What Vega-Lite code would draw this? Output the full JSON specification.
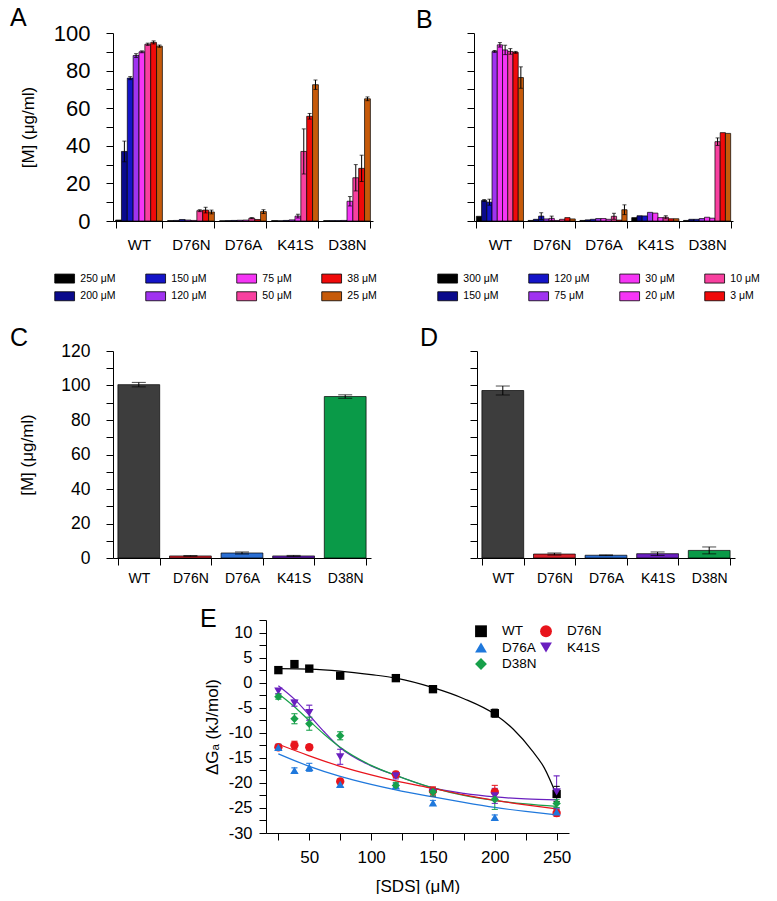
{
"$schema":"https://vega.github.io/schema/vega-lite/v6.json",
"padding":{"left":10,"top":6,"right":0,"bottom":0},
"background":"white",
"config":{"font":"Liberation Sans","view":{"stroke":null},
 "axis":{"domainColor":"#000","tickColor":"#000","labelColor":"#000","titleColor":"#000","grid":false,"tickSize":7,"titleFontWeight":"normal","domainWidth":1,"tickWidth":1,"labelOverlap":false},
 "title":{"fontWeight":"normal","color":"#000","fontSize":25,"anchor":"start","frame":"group","baseline":"alphabetic"},
 "legend":{"padding":0,"labelColor":"#000"}},
"spacing":22,
"align":"none",
"resolve":{"scale":{"color":"independent","x":"independent","y":"independent","shape":"independent","stroke":"independent","xOffset":"independent"},"legend":{"color":"independent","shape":"independent","stroke":"independent"}},
"vconcat":[
 {"hconcat":[
  {"width":260,"height":188,
   "title":{"text":"A","offset":-9,"dx":-103},
   "data":{"name":"a"},
   "layer":[
    {"mark":{"type":"bar","stroke":"#000","strokeWidth":0.7},
     "encoding":{
      "x":{"field":"g","type":"nominal","scale":{"domain":["WT","D76N","D76A","K41S","D38N"],"paddingInner":0.1,"paddingOuter":0.05},"axis":{"title":null,"labelAngle":0,"labelFontSize":15,"labelPadding":9,"tickBand":"extent"}},
      "xOffset":{"field":"ca","type":"nominal","scale":{"domain":["250 μM","200 μM","150 μM","120 μM","75 μM","50 μM","38 μM","25 μM"],"paddingInner":0,"paddingOuter":0}},
      "y":{"field":"v","type":"quantitative","scale":{"domain":[0,100],"nice":false},"axis":{"title":"[M] (μg/ml)","titleFontSize":17,"titlePadding":16,"labelFontSize":22,"labelPadding":16,"values":[0,10,20,30,40,50,60,70,80,90,100],"tickCount":200,"labelExpr":"datum.value % 20 === 0 ? '' + datum.value : ''"}},
      "color":{"field":"ca","type":"nominal","scale":{"domain":["250 μM","150 μM","75 μM","38 μM","200 μM","120 μM","50 μM","25 μM"],"range":["#000000","#1414c8","#f535f5","#f00a0a","#0a0a8c","#a033f0","#f8409f","#c65a0a"]},
       "legend":{"orient":"none","legendX":-53.6,"legendY":240,"direction":"horizontal","columns":4,"title":null,"symbolType":"M-2.2,-1H2.2V1H-2.2Z","symbolSize":81,"symbolStrokeColor":"#000","symbolStrokeWidth":0.8,"symbolOpacity":1,"labelFontSize":10.5,"labelOffset":10.4,"columnPadding":27,"rowPadding":5}}}},
    {"transform":[{"filter":"isValid(datum.lo)"}],"mark":{"type":"rule","color":"#000","strokeWidth":1},
     "encoding":{"x":{"field":"g","type":"nominal"},"xOffset":{"field":"ca","type":"nominal"},"y":{"field":"lo","type":"quantitative","title":"[M] (μg/ml)"},"y2":{"field":"hi"}}},
    {"transform":[{"filter":"isValid(datum.lo)"}],"mark":{"type":"tick","orient":"horizontal","size":4,"thickness":1,"color":"#000"},
     "encoding":{"x":{"field":"g","type":"nominal"},"xOffset":{"field":"ca","type":"nominal"},"y":{"field":"hi","type":"quantitative","title":"[M] (μg/ml)"}}},
    {"transform":[{"filter":"isValid(datum.lo)"}],"mark":{"type":"tick","orient":"horizontal","size":4,"thickness":1,"color":"#000"},
     "encoding":{"x":{"field":"g","type":"nominal"},"xOffset":{"field":"ca","type":"nominal"},"y":{"field":"lo","type":"quantitative","title":"[M] (μg/ml)"}}}
   ]},
  {"width":259,"height":188,
   "title":{"text":"B","offset":0,"dx":-58},
   "data":{"name":"b"},
   "layer":[
    {"mark":{"type":"bar","stroke":"#000","strokeWidth":0.7},
     "encoding":{
      "x":{"field":"g","type":"nominal","scale":{"domain":["WT","D76N","D76A","K41S","D38N"],"paddingInner":0.09,"paddingOuter":0.045},"axis":{"title":null,"labelAngle":0,"labelFontSize":15,"labelPadding":9,"tickBand":"extent"}},
      "xOffset":{"field":"cb","type":"nominal","scale":{"domain":["300 μM","150 μM","120 μM","75 μM","30 μM","20 μM","10 μM","3 μM","1 μM"],"paddingInner":0,"paddingOuter":0}},
      "y":{"field":"v","type":"quantitative","scale":{"domain":[0,100],"nice":false},"axis":{"title":null,"labels":false,"values":[0,10,20,30,40,50,60,70,80,90,100],"tickCount":200}},
      "color":{"field":"cb","type":"nominal","scale":{"domain":["300 μM","120 μM","30 μM","10 μM","150 μM","75 μM","20 μM","3 μM","1 μM"],"range":["#000000","#1414c8","#f535f5","#f8409f","#0a0a8c","#a033f0","#f535f5","#f00a0a","#c65a0a"]},
       "legend":{"orient":"none","legendX":-31.6,"legendY":240,"direction":"horizontal","columns":4,"title":null,"values":["300 μM","120 μM","30 μM","10 μM","150 μM","75 μM","20 μM","3 μM"],"symbolType":"M-2.2,-1H2.2V1H-2.2Z","symbolSize":81,"symbolStrokeColor":"#000","symbolStrokeWidth":0.8,"symbolOpacity":1,"labelFontSize":10.5,"labelOffset":10.4,"columnPadding":27,"rowPadding":5}}}},
    {"transform":[{"filter":"isValid(datum.lo)"}],"mark":{"type":"rule","color":"#000","strokeWidth":1},
     "encoding":{"x":{"field":"g","type":"nominal"},"xOffset":{"field":"cb","type":"nominal"},"y":{"field":"lo","type":"quantitative","title":null},"y2":{"field":"hi"}}},
    {"transform":[{"filter":"isValid(datum.lo)"}],"mark":{"type":"tick","orient":"horizontal","size":4,"thickness":1,"color":"#000"},
     "encoding":{"x":{"field":"g","type":"nominal"},"xOffset":{"field":"cb","type":"nominal"},"y":{"field":"hi","type":"quantitative","title":null}}},
    {"transform":[{"filter":"isValid(datum.lo)"}],"mark":{"type":"tick","orient":"horizontal","size":4,"thickness":1,"color":"#000"},
     "encoding":{"x":{"field":"g","type":"nominal"},"xOffset":{"field":"cb","type":"nominal"},"y":{"field":"lo","type":"quantitative","title":null}}}
   ]}
 ],"spacing":38,"align":"none","resolve":{"scale":{"color":"independent","x":"independent","y":"independent","xOffset":"independent"},"legend":{"color":"independent"}}},
 {"hconcat":[
  {"width":258,"height":207,
   "title":{"text":"C","offset":-9,"dx":-103},
   "data":{"name":"c"},
   "layer":[
    {"mark":{"type":"bar","stroke":"#000","strokeWidth":0.7},
     "encoding":{
      "x":{"field":"g","type":"nominal","scale":{"domain":["WT","D76N","D76A","K41S","D38N"],"paddingInner":0.19,"paddingOuter":0.095},"axis":{"title":null,"labelAngle":0,"labelFontSize":14,"labelPadding":6,"tickBand":"extent"}},
      "y":{"field":"v","type":"quantitative","scale":{"domain":[0,120],"nice":false},"axis":{"title":"[M] (μg/ml)","titleFontSize":17,"titlePadding":24,"labelFontSize":17.5,"labelPadding":16,"values":[0,10,20,30,40,50,60,70,80,90,100,110,120],"tickCount":200,"labelExpr":"datum.value % 20 === 0 ? '' + datum.value : ''"}},
      "color":{"field":"g","type":"nominal","scale":{"domain":["WT","D76N","D76A","K41S","D38N"],"range":["#3d3d3d","#d8202a","#2b6fd4","#6a1fbf","#0a9a48"]},"legend":null}}},
    {"mark":{"type":"rule","color":"#000","strokeWidth":1},
     "encoding":{"x":{"field":"g","type":"nominal"},"y":{"field":"lo","type":"quantitative","title":"[M] (μg/ml)"},"y2":{"field":"hi"}}},
    {"mark":{"type":"tick","orient":"horizontal","size":14,"thickness":1,"color":"#000"},
     "encoding":{"x":{"field":"g","type":"nominal"},"y":{"field":"hi","type":"quantitative","title":"[M] (μg/ml)"}}},
    {"mark":{"type":"tick","orient":"horizontal","size":14,"thickness":1,"color":"#000"},
     "encoding":{"x":{"field":"g","type":"nominal"},"y":{"field":"lo","type":"quantitative","title":"[M] (μg/ml)"}}}
   ]},
  {"width":258,"height":207,
   "title":{"text":"D","offset":0,"dx":-57},
   "data":{"name":"d"},
   "layer":[
    {"mark":{"type":"bar","stroke":"#000","strokeWidth":0.7},
     "encoding":{
      "x":{"field":"g","type":"nominal","scale":{"domain":["WT","D76N","D76A","K41S","D38N"],"paddingInner":0.19,"paddingOuter":0.095},"axis":{"title":null,"labelAngle":0,"labelFontSize":14,"labelPadding":6,"tickBand":"extent"}},
      "y":{"field":"v","type":"quantitative","scale":{"domain":[0,120],"nice":false},"axis":{"title":null,"labels":false,"values":[0,10,20,30,40,50,60,70,80,90,100,110,120],"tickCount":200}},
      "color":{"field":"g","type":"nominal","scale":{"domain":["WT","D76N","D76A","K41S","D38N"],"range":["#3d3d3d","#d8202a","#2b6fd4","#6a1fbf","#0a9a48"]},"legend":null}}},
    {"mark":{"type":"rule","color":"#000","strokeWidth":1},
     "encoding":{"x":{"field":"g","type":"nominal"},"y":{"field":"lo","type":"quantitative","title":null},"y2":{"field":"hi"}}},
    {"mark":{"type":"tick","orient":"horizontal","size":14,"thickness":1,"color":"#000"},
     "encoding":{"x":{"field":"g","type":"nominal"},"y":{"field":"hi","type":"quantitative","title":null}}},
    {"mark":{"type":"tick","orient":"horizontal","size":14,"thickness":1,"color":"#000"},
     "encoding":{"x":{"field":"g","type":"nominal"},"y":{"field":"lo","type":"quantitative","title":null}}}
   ]}
 ],"spacing":49,"align":"none","resolve":{"scale":{"color":"independent","x":"independent","y":"independent"}}},
 {"hconcat":[
  {"width":87,"height":10,"data":{"values":[]},"mark":{"type":"point"}},
  {"width":303,"height":213,
   "title":{"text":"E","offset":-20,"dx":-66},
   "layer":[
    {"data":{"name":"curves"},"mark":{"type":"line","interpolate":"monotone","strokeWidth":1.2},
     "encoding":{
      "x":{"field":"x","type":"quantitative","scale":{"domain":[15,260],"nice":false,"zero":false},"axis":{"title":"[SDS] (μM)","titleFontSize":17,"titlePadding":13,"labelFontSize":17,"labelPadding":9,"values":[25,50,75,100,125,150,175,200,225,250],"tickCount":200,"labelExpr":"datum.value % 50 === 0 ? '' + datum.value : ''"}},
      "y":{"field":"y","type":"quantitative","scale":{"domain":[-30,12.5],"nice":false,"zero":false},"axis":{"title":"ΔGₐ (kJ/mol)","titleFontSize":17,"titlePadding":7,"labelFontSize":16.5,"labelPadding":7,"values":[-30,-27.5,-25,-22.5,-20,-17.5,-15,-12.5,-10,-7.5,-5,-2.5,0,2.5,5,7.5,10,12.5],"tickCount":200,"labelExpr":"datum.value % 5 === 0 ? '' + datum.value : ''"}},
      "stroke":{"field":"s","type":"nominal","scale":{"domain":["D38N","K41S","D76A","D76N","WT"],"range":["#17a04a","#6a1fbf","#1f78dc","#e8141c","#000000"]},"legend":null}}},
    {"data":{"name":"pts"},"mark":{"type":"rule","strokeWidth":1},
     "encoding":{"x":{"field":"x","type":"quantitative","title":"[SDS] (μM)"},"y":{"field":"lo","type":"quantitative","title":"ΔGₐ (kJ/mol)"},"y2":{"field":"hi"},
      "stroke":{"field":"s","type":"nominal","legend":null}}},
    {"data":{"name":"pts"},"mark":{"type":"tick","orient":"horizontal","size":6,"thickness":0.01,"filled":false,"strokeWidth":1},
     "encoding":{"x":{"field":"x","type":"quantitative","title":"[SDS] (μM)"},"y":{"field":"hi","type":"quantitative","title":"ΔGₐ (kJ/mol)"},
      "stroke":{"field":"s","type":"nominal","legend":null}}},
    {"data":{"name":"pts"},"mark":{"type":"tick","orient":"horizontal","size":6,"thickness":0.01,"filled":false,"strokeWidth":1},
     "encoding":{"x":{"field":"x","type":"quantitative","title":"[SDS] (μM)"},"y":{"field":"lo","type":"quantitative","title":"ΔGₐ (kJ/mol)"},
      "stroke":{"field":"s","type":"nominal","legend":null}}},
    {"data":{"name":"pts"},"mark":{"type":"point","filled":true,"size":70,"opacity":1},
     "encoding":{"x":{"field":"x","type":"quantitative","title":"[SDS] (μM)"},"y":{"field":"y","type":"quantitative","title":"ΔGₐ (kJ/mol)"},
      "color":{"field":"s","type":"nominal","scale":{"domain":["WT","D76N","D76A","K41S","D38N"],"range":["#000000","#e8141c","#1f78dc","#6a1fbf","#17a04a"]},
       "legend":{"orient":"none","legendX":208,"legendY":4,"direction":"horizontal","columns":2,"title":null,"symbolSize":140,"labelFontSize":13.5,"labelOffset":14,"columnPadding":2,"rowPadding":2.5}},
      "shape":{"field":"s","type":"nominal","scale":{"domain":["WT","D76N","D76A","K41S","D38N"],"range":["square","circle","triangle-up","triangle-down","diamond"]},
       "legend":{"orient":"none","legendX":208,"legendY":4,"direction":"horizontal","columns":2,"title":null,"symbolSize":140,"labelFontSize":13.5,"labelOffset":14,"columnPadding":2,"rowPadding":2.5}}}}
   ]}
 ],"spacing":0,"align":"none","resolve":{"scale":{"color":"independent","shape":"independent","stroke":"independent","x":"independent","y":"independent"},"legend":{"color":"independent","shape":"independent","stroke":"independent"}}}
],
"datasets":{
 "a":[
  {"g":"WT","ca":"250 μM","v":0.5},
  {"g":"WT","ca":"200 μM","v":37,"lo":31.5,"hi":42.5},
  {"g":"WT","ca":"150 μM","v":76,"lo":75.2,"hi":76.8},
  {"g":"WT","ca":"120 μM","v":88,"lo":87,"hi":89},
  {"g":"WT","ca":"75 μM","v":90,"lo":89.5,"hi":90.5},
  {"g":"WT","ca":"50 μM","v":94,"lo":93.4,"hi":94.6},
  {"g":"WT","ca":"38 μM","v":95,"lo":94.2,"hi":95.8},
  {"g":"WT","ca":"25 μM","v":93,"lo":92.4,"hi":93.6},
  {"g":"D76N","ca":"250 μM","v":0.2},
  {"g":"D76N","ca":"200 μM","v":0.3},
  {"g":"D76N","ca":"150 μM","v":0.8},
  {"g":"D76N","ca":"120 μM","v":0.5},
  {"g":"D76N","ca":"75 μM","v":0.3},
  {"g":"D76N","ca":"50 μM","v":5.5,"lo":5,"hi":6},
  {"g":"D76N","ca":"38 μM","v":5.8,"lo":4.3,"hi":7.3},
  {"g":"D76N","ca":"25 μM","v":4.8,"lo":3.8,"hi":5.8},
  {"g":"D76A","ca":"250 μM","v":0.1},
  {"g":"D76A","ca":"200 μM","v":0.2},
  {"g":"D76A","ca":"150 μM","v":0.3},
  {"g":"D76A","ca":"120 μM","v":0.4},
  {"g":"D76A","ca":"75 μM","v":0.5},
  {"g":"D76A","ca":"50 μM","v":1.5,"lo":1.2,"hi":1.8},
  {"g":"D76A","ca":"38 μM","v":0.8},
  {"g":"D76A","ca":"25 μM","v":5,"lo":4,"hi":6},
  {"g":"K41S","ca":"250 μM","v":0.2},
  {"g":"K41S","ca":"200 μM","v":0.1},
  {"g":"K41S","ca":"150 μM","v":0.3},
  {"g":"K41S","ca":"120 μM","v":0.6},
  {"g":"K41S","ca":"75 μM","v":2.6,"lo":1.6,"hi":3.6},
  {"g":"K41S","ca":"50 μM","v":37,"lo":25,"hi":49},
  {"g":"K41S","ca":"38 μM","v":55.7,"lo":54.2,"hi":57.2},
  {"g":"K41S","ca":"25 μM","v":72.5,"lo":70,"hi":75},
  {"g":"D38N","ca":"250 μM","v":0.2},
  {"g":"D38N","ca":"200 μM","v":0.2},
  {"g":"D38N","ca":"150 μM","v":0.2},
  {"g":"D38N","ca":"120 μM","v":0.3},
  {"g":"D38N","ca":"75 μM","v":10.5,"lo":8,"hi":13},
  {"g":"D38N","ca":"50 μM","v":23,"lo":16,"hi":30},
  {"g":"D38N","ca":"38 μM","v":28,"lo":21,"hi":35},
  {"g":"D38N","ca":"25 μM","v":65,"lo":64,"hi":66}
 ],
 "b":[
  {"g":"WT","cb":"300 μM","v":2.5},
  {"g":"WT","cb":"150 μM","v":10.9,"lo":10.4,"hi":11.4},
  {"g":"WT","cb":"120 μM","v":10,"lo":8.4,"hi":11.6},
  {"g":"WT","cb":"75 μM","v":90.2,"lo":89.7,"hi":90.7},
  {"g":"WT","cb":"30 μM","v":93.7,"lo":92.5,"hi":94.9},
  {"g":"WT","cb":"20 μM","v":91,"lo":88.5,"hi":93.5},
  {"g":"WT","cb":"10 μM","v":90.2,"lo":88.7,"hi":91.7},
  {"g":"WT","cb":"3 μM","v":89.7,"lo":89.2,"hi":90.2},
  {"g":"WT","cb":"1 μM","v":76.3,"lo":70.6,"hi":82},
  {"g":"D76N","cb":"300 μM","v":0.3},
  {"g":"D76N","cb":"150 μM","v":0.9},
  {"g":"D76N","cb":"120 μM","v":2.6,"lo":0.8,"hi":4.4},
  {"g":"D76N","cb":"75 μM","v":1.1},
  {"g":"D76N","cb":"30 μM","v":1.4,"lo":0.2,"hi":2.6},
  {"g":"D76N","cb":"20 μM","v":0.3},
  {"g":"D76N","cb":"10 μM","v":0.9},
  {"g":"D76N","cb":"3 μM","v":1.8},
  {"g":"D76N","cb":"1 μM","v":1.1},
  {"g":"D76A","cb":"300 μM","v":0.3},
  {"g":"D76A","cb":"150 μM","v":0.6},
  {"g":"D76A","cb":"120 μM","v":0.9},
  {"g":"D76A","cb":"75 μM","v":1.3},
  {"g":"D76A","cb":"30 μM","v":1.3},
  {"g":"D76A","cb":"20 μM","v":0.9},
  {"g":"D76A","cb":"10 μM","v":2.5,"lo":0.9,"hi":4.1},
  {"g":"D76A","cb":"3 μM","v":0.5},
  {"g":"D76A","cb":"1 μM","v":6,"lo":3.4,"hi":8.6},
  {"g":"K41S","cb":"300 μM","v":1.8},
  {"g":"K41S","cb":"150 μM","v":2.8},
  {"g":"K41S","cb":"120 μM","v":2.7},
  {"g":"K41S","cb":"75 μM","v":4.6},
  {"g":"K41S","cb":"30 μM","v":4.2},
  {"g":"K41S","cb":"20 μM","v":1.8},
  {"g":"K41S","cb":"10 μM","v":2,"lo":1.2,"hi":2.8},
  {"g":"K41S","cb":"3 μM","v":1.2},
  {"g":"K41S","cb":"1 μM","v":1.2},
  {"g":"D38N","cb":"300 μM","v":0.3},
  {"g":"D38N","cb":"150 μM","v":0.9},
  {"g":"D38N","cb":"120 μM","v":0.9},
  {"g":"D38N","cb":"75 μM","v":1.3},
  {"g":"D38N","cb":"30 μM","v":2},
  {"g":"D38N","cb":"20 μM","v":1.5},
  {"g":"D38N","cb":"10 μM","v":42.2,"lo":40.2,"hi":44.2},
  {"g":"D38N","cb":"3 μM","v":47},
  {"g":"D38N","cb":"1 μM","v":46.6}
 ],
 "c":[
  {"g":"WT","v":100.5,"lo":99.2,"hi":101.8},
  {"g":"D76N","v":1.2,"lo":1.0,"hi":1.4},
  {"g":"D76A","v":2.9,"lo":2.3,"hi":3.5},
  {"g":"K41S","v":1.2,"lo":0.9,"hi":1.5},
  {"g":"D38N","v":93.6,"lo":92.6,"hi":94.6}
 ],
 "d":[
  {"g":"WT","v":97.1,"lo":94.5,"hi":99.7},
  {"g":"D76N","v":2.3,"lo":1.7,"hi":2.9},
  {"g":"D76A","v":1.6,"lo":1.4,"hi":1.8},
  {"g":"K41S","v":2.5,"lo":1.5,"hi":3.5},
  {"g":"D38N","v":4.4,"lo":2.4,"hi":6.4}
 ],
 "pts":[
  {"s":"WT","x":25,"y":2.5,"lo":2.0,"hi":3.0},
  {"s":"WT","x":38,"y":3.7,"lo":3.1,"hi":4.3},
  {"s":"WT","x":50,"y":2.8,"lo":2.3,"hi":3.3},
  {"s":"WT","x":75,"y":1.4,"lo":0.8,"hi":2.0},
  {"s":"WT","x":120,"y":0.9,"lo":0.4,"hi":1.4},
  {"s":"WT","x":150,"y":-1.3,"lo":-1.9,"hi":-0.7},
  {"s":"WT","x":200,"y":-6.1,"lo":-6.9,"hi":-5.3},
  {"s":"WT","x":250,"y":-22.2,"lo":-23.7,"hi":-20.7},
  {"s":"D76N","x":25,"y":-12.9,"lo":-13.5,"hi":-12.3},
  {"s":"D76N","x":38,"y":-12.5,"lo":-13.3,"hi":-11.7},
  {"s":"D76N","x":50,"y":-12.9,"lo":-13.4,"hi":-12.4},
  {"s":"D76N","x":75,"y":-19.7,"lo":-20.2,"hi":-19.2},
  {"s":"D76N","x":120,"y":-18.3,"lo":-18.9,"hi":-17.7},
  {"s":"D76N","x":150,"y":-21.6,"lo":-22.4,"hi":-20.8},
  {"s":"D76N","x":200,"y":-21.8,"lo":-23.1,"hi":-20.5},
  {"s":"D76N","x":250,"y":-26.0,"lo":-26.7,"hi":-25.3},
  {"s":"D76A","x":25,"y":-12.9,"lo":-13.5,"hi":-12.3},
  {"s":"D76A","x":38,"y":-17.5,"lo":-18.0,"hi":-17.0},
  {"s":"D76A","x":50,"y":-16.9,"lo":-17.7,"hi":-16.1},
  {"s":"D76A","x":75,"y":-20.3,"lo":-20.8,"hi":-19.8},
  {"s":"D76A","x":120,"y":-20.6,"lo":-21.1,"hi":-20.1},
  {"s":"D76A","x":150,"y":-24.0,"lo":-24.5,"hi":-23.5},
  {"s":"D76A","x":200,"y":-26.9,"lo":-27.4,"hi":-26.4},
  {"s":"D76A","x":250,"y":-25.8,"lo":-26.4,"hi":-25.2},
  {"s":"K41S","x":25,"y":-1.7,"lo":-2.2,"hi":-1.2},
  {"s":"K41S","x":38,"y":-4.1,"lo":-4.7,"hi":-3.5},
  {"s":"K41S","x":50,"y":-6.0,"lo":-7.5,"hi":-4.5},
  {"s":"K41S","x":75,"y":-14.8,"lo":-16.3,"hi":-13.3},
  {"s":"K41S","x":120,"y":-18.6,"lo":-19.2,"hi":-18.0},
  {"s":"K41S","x":150,"y":-21.9,"lo":-22.7,"hi":-21.1},
  {"s":"K41S","x":200,"y":-22.6,"lo":-24.1,"hi":-21.1},
  {"s":"K41S","x":250,"y":-21.8,"lo":-25.0,"hi":-18.6},
  {"s":"D38N","x":25,"y":-2.8,"lo":-3.3,"hi":-2.3},
  {"s":"D38N","x":38,"y":-7.2,"lo":-8.2,"hi":-6.2},
  {"s":"D38N","x":50,"y":-8.2,"lo":-9.5,"hi":-6.9},
  {"s":"D38N","x":75,"y":-10.6,"lo":-11.4,"hi":-9.8},
  {"s":"D38N","x":120,"y":-20.5,"lo":-21.1,"hi":-19.9},
  {"s":"D38N","x":150,"y":-21.8,"lo":-22.6,"hi":-21.0},
  {"s":"D38N","x":200,"y":-23.3,"lo":-25.3,"hi":-21.3},
  {"s":"D38N","x":250,"y":-24.1,"lo":-24.9,"hi":-23.3}
 ],
 "curves":[
  {"s":"WT","x":25,"y":2.8},{"s":"WT","x":50,"y":2.7},{"s":"WT","x":75,"y":2.3},{"s":"WT","x":100,"y":1.6},{"s":"WT","x":120,"y":0.9},{"s":"WT","x":150,"y":-1.0},{"s":"WT","x":175,"y":-3.2},{"s":"WT","x":200,"y":-6.3},{"s":"WT","x":215,"y":-9.3},{"s":"WT","x":230,"y":-13.5},{"s":"WT","x":240,"y":-17.0},{"s":"WT","x":250,"y":-22.5},
  {"s":"K41S","x":25,"y":-0.6},{"s":"K41S","x":38,"y":-3.3},{"s":"K41S","x":50,"y":-6.5},{"s":"K41S","x":62,"y":-9.8},{"s":"K41S","x":75,"y":-13.0},{"s":"K41S","x":100,"y":-16.6},{"s":"K41S","x":120,"y":-18.5},{"s":"K41S","x":150,"y":-21.0},{"s":"K41S","x":175,"y":-22.1},{"s":"K41S","x":200,"y":-22.8},{"s":"K41S","x":225,"y":-23.2},{"s":"K41S","x":250,"y":-23.4},
  {"s":"D38N","x":25,"y":-2.2},{"s":"D38N","x":38,"y":-4.8},{"s":"D38N","x":50,"y":-7.6},{"s":"D38N","x":62,"y":-10.3},{"s":"D38N","x":75,"y":-12.9},{"s":"D38N","x":100,"y":-16.5},{"s":"D38N","x":120,"y":-18.5},{"s":"D38N","x":150,"y":-21.0},{"s":"D38N","x":175,"y":-22.5},{"s":"D38N","x":200,"y":-23.5},{"s":"D38N","x":225,"y":-24.2},{"s":"D38N","x":250,"y":-24.7},
  {"s":"D76N","x":25,"y":-12.3},{"s":"D76N","x":50,"y":-14.6},{"s":"D76N","x":75,"y":-16.7},{"s":"D76N","x":100,"y":-18.4},{"s":"D76N","x":120,"y":-19.6},{"s":"D76N","x":150,"y":-21.1},{"s":"D76N","x":175,"y":-22.4},{"s":"D76N","x":200,"y":-23.5},{"s":"D76N","x":225,"y":-24.4},{"s":"D76N","x":250,"y":-25.2},
  {"s":"D76A","x":25,"y":-14.2},{"s":"D76A","x":50,"y":-16.7},{"s":"D76A","x":75,"y":-18.7},{"s":"D76A","x":100,"y":-20.3},{"s":"D76A","x":120,"y":-21.4},{"s":"D76A","x":150,"y":-22.8},{"s":"D76A","x":175,"y":-23.9},{"s":"D76A","x":200,"y":-24.9},{"s":"D76A","x":225,"y":-25.7},{"s":"D76A","x":250,"y":-26.4}
 ]
}
}
